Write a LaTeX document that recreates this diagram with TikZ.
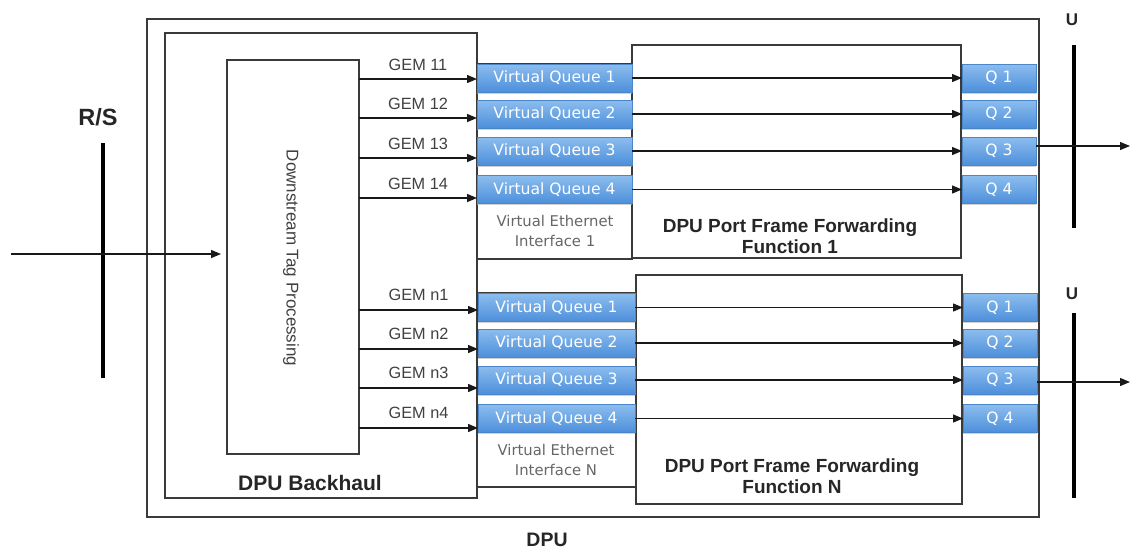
\documentclass[tikz,border=0pt]{standalone}
\usepackage{fontspec}
\setmainfont{Liberation Sans}
\newfontfamily\qfont{DejaVu Sans}
\usetikzlibrary{arrows.meta,fit,calc,shadows}
\definecolor{lineg}{HTML}{3A3A3A}
\definecolor{qtop}{HTML}{8CBDEE}
\definecolor{qbot}{HTML}{4D8FDB}
\definecolor{qedge}{HTML}{4A86C8}
\definecolor{txtg}{HTML}{404040}
\begin{document}
\begin{tikzpicture}[x=1pt,y=-1pt,
  box/.style={draw=lineg, line width=1.1pt, inner sep=0pt, outer sep=0pt},
  vq/.style={draw=qedge, line width=0.5pt, top color=qtop, bottom color=qbot, text=white,
    font=\qfont\fontsize{15.6}{18}\selectfont, minimum height=28pt, inner sep=0pt, outer sep=0pt,
    drop shadow={shadow xshift=0pt, shadow yshift=-1.5pt, fill=black!30, opacity=0.6}},
  arr/.style={line width=1.3pt, draw=black!90, -{Triangle[length=10pt,width=8pt]}},
  gem/.style={font=\fontsize{16.3}{19}\selectfont, text=txtg},
  vei/.style={font=\qfont\fontsize{14.8}{19.5}\selectfont, text=black!60, align=center},
  bold/.style={font=\bfseries\fontsize{19}{21}\selectfont, text=black!85, align=center},
  bar/.style={line width=4pt, draw=black}]
\useasboundingbox (0,0) rectangle (1131,550);

% main boxes
\node[box, fit={(147,19)(1039,517)}] (dpu) {};
\node[box, fit={(165,33)(477,498)}] (bh) {};
\node[box, fit={(227,60)(359,454)}] (dtp) {};
\node[box, fit={(477,64)(632,259)}] (vei1) {};
\node[box, fit={(632,45)(961,258)}] (ff1) {};
\node[box, fit={(477,293)(636,487)}] (vei2) {};
\node[box, fit={(636,275)(962,504)}] (ff2) {};

% texts
\node[font=\fontsize{17}{20}\selectfont, text=txtg, rotate=-90] (dtpt) at (291,258) {Downstream Tag Processing};
\node[bold, font=\bfseries\fontsize{21}{24}\selectfont] (bht) at (310,483) {DPU Backhaul};
\node[bold, font=\bfseries\fontsize{19.5}{22}\selectfont] (dput) at (547,540) {DPU};
\node[bold, font=\bfseries\fontsize{23.5}{26}\selectfont] (rst) at (98,117) {R/S};
\node[bold, font=\bfseries\fontsize{17}{20}\selectfont] (u1t) at (1072,20) {U};
\node[bold, font=\bfseries\fontsize{17}{20}\selectfont] (u2t) at (1072,294) {U};
\node[vei] (vei1t) at (555,231) {Virtual Ethernet\\Interface 1};
\node[vei] (vei2t) at (556,460) {Virtual Ethernet\\Interface N};
\node[bold] (ff1t) at (790,236) {DPU Port Frame Forwarding\\Function 1};
\node[bold] (ff2t) at (792,476) {DPU Port Frame Forwarding\\Function N};

% virtual queues and queues (upper)
\foreach \i/\y in {1/78,2/114,3/151,4/189.5}{
  \node[vq, minimum width=155pt] (a\i) at (554.5,\y) {Virtual Queue \i};
  \node[vq, minimum width=74pt] (p\i) at (999,\y) {Q \i};
  \draw[arr] (a\i.east) -- (p\i.west);
}
% lower
\foreach \i/\y in {1/307.5,2/343,3/380,4/418.5}{
  \node[vq, minimum width=157pt] (b\i) at (556.5,\y) {Virtual Queue \i};
  \node[vq, minimum width=74pt] (r\i) at (1000,\y) {Q \i};
  \draw[arr] (b\i.east) -- (r\i.west);
}

% GEM arrows
\foreach \i/\y in {1/79,2/118,3/158,4/198}{
  \draw[arr] (dtp.east |- 0,\y) -- (a\i.west |- 0,\y) node[gem, midway, yshift=14pt] {GEM 1\i};
}
\foreach \i/\y in {1/310,2/349,3/388,4/428}{
  \draw[arr] (dtp.east |- 0,\y) -- (b\i.west |- 0,\y) node[gem, midway, yshift=15pt] {GEM n\i};
}

% R/S reference point and input
\coordinate (rsa) at (103,143);
\coordinate (rsb) at (103,378);
\draw[bar] (rsa) -- (rsb);
\coordinate (inp) at (11,254);
\draw[arr, shorten >=6pt] (inp) -- (dtp.west |- inp);

% U reference points and outputs
\coordinate (ua) at (1074,45);
\coordinate (ub) at (1074,228);
\draw[bar] (ua) -- (ub);
\coordinate (uc) at (1074,313);
\coordinate (ud) at (1074,498);
\draw[bar] (uc) -- (ud);
\coordinate (o1) at (1130,146);
\coordinate (o2) at (1130,382);
\draw[arr, line width=1.1pt] (p3.east |- o1) -- (o1);
\draw[arr, line width=1.1pt] (r3.east |- o2) -- (o2);
\end{tikzpicture}
\end{document}
